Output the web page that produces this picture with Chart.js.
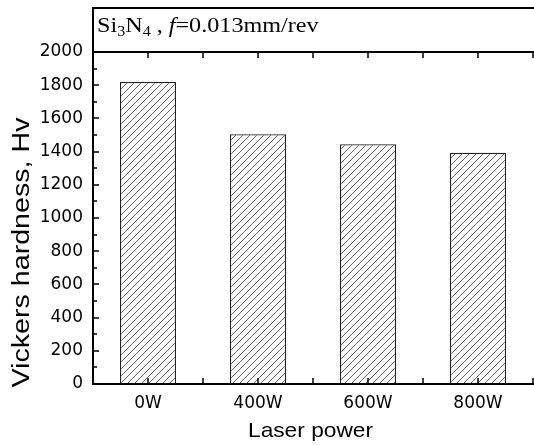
<!DOCTYPE html>
<html><head><meta charset="utf-8">
<script src="https://cdn.jsdelivr.net/npm/chart.js@4"></script>
<style>html,body{margin:0;padding:0;background:#fff;overflow:hidden}</style>
</head><body>
<canvas id="c" width="534" height="445"></canvas>
<script>
const categories = ['0W', '400W', '600W', '800W'];
const hardness = [1820, 1505, 1445, 1393];
const yMin = 0, yMax = 2000, yStep = 200, yMinorStep = 100;
const xTitle = 'Laser power';
const yTitle = 'Vickers hardness, Hv';
const headerParts = [
  {t: 'Si', s: 'n'}, {t: '3', s: 'sub'}, {t: 'N', s: 'n'}, {t: '4', s: 'sub'},
  {t: ' , ', s: 'n'}, {t: 'f', s: 'i'}, {t: '=0.013mm/rev', s: 'n'}
];

function hatchPattern() {
  const s = 7;
  const c = document.createElement('canvas');
  c.width = s; c.height = s;
  const g = c.getContext('2d');
  g.fillStyle = '#fff'; g.fillRect(0, 0, s, s);
  g.strokeStyle = '#666'; g.lineWidth = 1;
  g.beginPath();
  g.moveTo(-1, s + 1); g.lineTo(s + 1, -1);
  g.moveTo(-1, 1); g.lineTo(1, -1);
  g.moveTo(s - 1, s + 1); g.lineTo(s + 1, s - 1);
  g.stroke();
  return g.createPattern(c, 'repeat');
}

function drawStretched(ctx, text, font, cx, cy, targetLen, rot) {
  ctx.save();
  ctx.font = font;
  const w = ctx.measureText(text).width;
  ctx.translate(cx, cy);
  if (rot) ctx.rotate(rot);
  ctx.scale(targetLen / w, 1);
  ctx.textAlign = 'center';
  ctx.textBaseline = 'middle';
  ctx.fillStyle = '#000';
  ctx.fillText(text, 0, 0);
  ctx.restore();
}

const framePlugin = {
  id: 'frame',
  afterDraw(chart) {
    const ctx = chart.ctx;
    const a = chart.chartArea;
    const xs = chart.scales.x, ys = chart.scales.y;
    const L = a.left, B = a.bottom, T = a.top, R = 534;
    const boxTop = 8;
    ctx.save();
    ctx.strokeStyle = '#000';
    ctx.lineWidth = 2;
    ctx.beginPath();
    ctx.moveTo(L, boxTop); ctx.lineTo(L, B);
    ctx.moveTo(L - 1, B); ctx.lineTo(R, B);
    ctx.moveTo(L - 1, boxTop); ctx.lineTo(R, boxTop);
    ctx.moveTo(L - 1, T); ctx.lineTo(R, T);
    ctx.stroke();
    ctx.lineWidth = 1.5;
    ctx.beginPath();
    for (let v = yMin; v <= yMax; v += yMinorStep) {
      const y = Math.round(ys.getPixelForValue(v));
      const len = (v % yStep === 0) ? 6 : 4;
      ctx.moveTo(L, y); ctx.lineTo(L + len, y);
    }
    for (let i = -0.5; i <= categories.length - 0.5; i += 0.5) {
      const x = Math.round(xs.getPixelForValue(i));
      if (x <= L + 2) continue;
      ctx.moveTo(x, B); ctx.lineTo(x, B - 6);
      ctx.moveTo(x, T); ctx.lineTo(x, T + 6);
    }
    ctx.stroke();
    ctx.restore();

    // header text
    ctx.save();
    ctx.fillStyle = '#000';
    ctx.textBaseline = 'alphabetic';
    ctx.translate(97, 32);
    ctx.scale(1.15, 1);
    let x = 0;
    for (const p of headerParts) {
      let font = '21px "Liberation Serif", "Times New Roman", serif';
      let dy = 0;
      if (p.s === 'sub') { font = '14px "Liberation Serif", serif'; dy = 4; }
      if (p.s === 'i') font = 'italic 21px "Liberation Serif", serif';
      ctx.font = font;
      ctx.fillText(p.t, x, dy);
      x += ctx.measureText(p.t).width;
    }
    ctx.restore();

    // axis titles
    drawStretched(ctx, xTitle, '21px "Liberation Sans", Arial, sans-serif', 310.5, 431, 125, 0);
    drawStretched(ctx, yTitle, '23px "Liberation Sans", Arial, sans-serif', 23, 252.5, 270, -Math.PI / 2);
  }
};

new Chart(document.getElementById('c'), {
  type: 'bar',
  data: {
    labels: categories,
    datasets: [{
      data: hardness,
      backgroundColor: hatchPattern(),
      borderColor: '#222',
      borderWidth: 1.3,
      categoryPercentage: 1,
      barPercentage: 0.51
    }]
  },
  options: {
    responsive: false,
    devicePixelRatio: 1,
    animation: false,
    layout: {padding: {top: 52, right: 1, left: 0, bottom: 0}},
    plugins: {legend: {display: false}, tooltip: {enabled: false}},
    scales: {
      x: {
        grid: {display: false, drawTicks: false},
        border: {display: false},
        ticks: {color: '#000', font: {family: '"DejaVu Sans", sans-serif', size: 17}, padding: 9},
        title: {display: false, text: xTitle},
        afterFit(s) { s.height = 61; }
      },
      y: {
        min: yMin, max: yMax,
        grid: {display: false, drawTicks: false},
        border: {display: false},
        ticks: {stepSize: yStep, color: '#000', font: {family: '"DejaVu Sans", sans-serif', size: 17}, padding: 10,
          callback: v => String(v)},
        title: {display: false, text: yTitle},
        afterFit(s) { s.width = 93; }
      }
    }
  },
  plugins: [framePlugin]
});
</script>
</body></html>
